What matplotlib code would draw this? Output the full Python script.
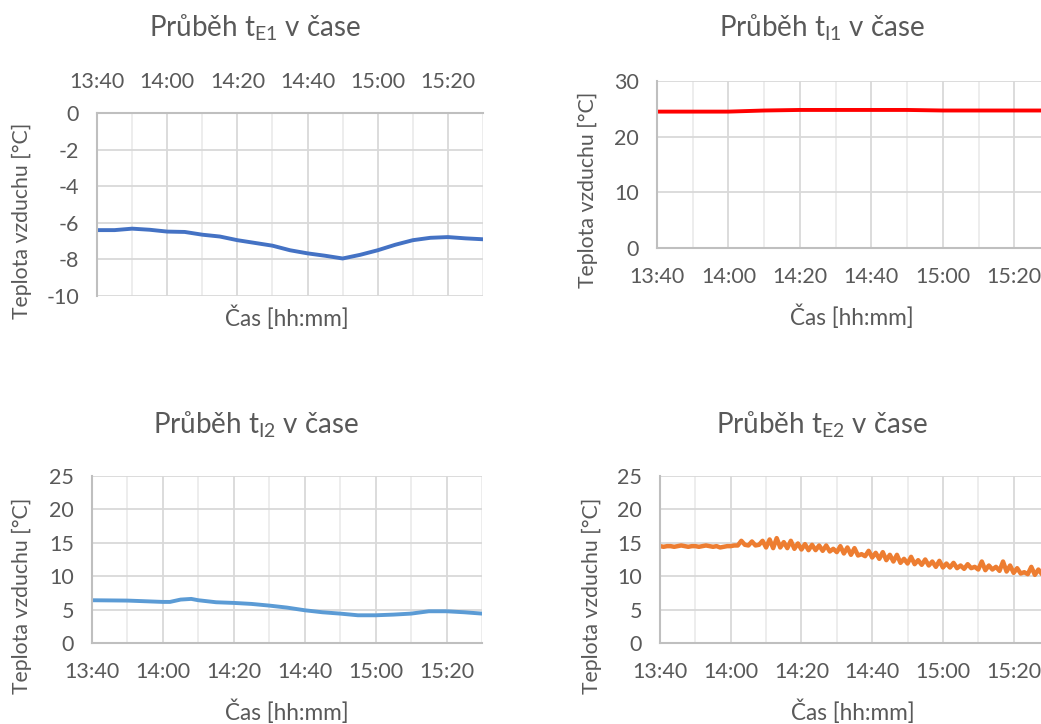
import numpy as np
import matplotlib.pyplot as plt

plt.rcParams['font.family'] = ['Lato', 'DejaVu Sans']
plt.rcParams['axes.unicode_minus'] = False

# time in minutes from 13:40
t_e1_min = [0, 5, 10, 15, 20, 25, 30, 35, 40, 45, 50, 55, 60, 65, 70, 75, 80, 85, 90, 95, 100, 105, 110]
t_e1 = [-6.4, -6.4, -6.32, -6.38, -6.48, -6.5, -6.65, -6.75, -6.95, -7.1, -7.25, -7.5, -7.67,
        -7.8, -7.95, -7.75, -7.5, -7.2, -6.95, -6.82, -6.78, -6.85, -6.9]

t_i1_min = [0, 10, 20, 25, 30, 40, 50, 60, 70, 80, 90, 100, 110]
t_i1 = [24.5, 24.5, 24.5, 24.6, 24.7, 24.8, 24.8, 24.8, 24.8, 24.7, 24.7, 24.7, 24.7]

t_i2_min = [0, 10, 20, 22, 25, 28, 30, 35, 40, 45, 50, 55, 60, 65, 70, 75, 80, 85, 90, 95, 100, 105, 110]
t_i2 = [6.4, 6.35, 6.15, 6.15, 6.5, 6.6, 6.4, 6.1, 6.0, 5.85, 5.6, 5.3, 4.9, 4.6, 4.4, 4.15,
        4.15, 4.25, 4.4, 4.75, 4.75, 4.6, 4.4]

t_e2 = [14.5, 14.4, 14.5, 14.5, 14.4, 14.5, 14.6, 14.5, 14.4, 14.5, 14.5, 14.4, 14.5, 14.6, 14.5,
        14.4, 14.5, 14.3, 14.4, 14.5, 14.5, 14.6, 14.6,
        15.3, 14.7, 14.6, 15.2, 14.6, 14.7, 15.3, 14.3, 15.5, 14.2, 15.7, 14.3, 15.1, 14.2, 15.3,
        14.1, 14.9, 14.0, 14.8, 13.9, 14.7, 13.9, 14.6, 13.8, 14.6, 13.7, 14.1, 13.6, 14.5, 13.4,
        14.3, 13.2, 14.2, 13.1, 13.3, 13.0, 13.8, 12.8, 13.5, 12.6, 13.6, 12.4, 13.2, 12.2, 13.2,
        12.0, 12.6, 11.9, 12.9, 11.8, 12.4, 11.7, 12.5, 11.6, 12.2, 11.4, 12.3, 11.3, 11.9, 11.3,
        12.0, 11.2, 11.6, 11.1, 11.8, 11.2, 11.4, 11.0, 12.2, 10.9, 11.6, 11.0, 11.4, 10.8, 12.2,
        10.7, 11.6, 10.5, 11.2, 10.4, 10.6, 10.3, 11.4, 10.2, 11.0, 10.3, 10.6, 10.2]
t_e2_min = list(range(len(t_e2)))

tick_min = [0, 20, 40, 60, 80, 100]
tick_lab = ['13:40', '14:00', '14:20', '14:40', '15:00', '15:20']

W, H = 1041, 724
fig = plt.figure(figsize=(W / 100, H / 100), dpi=100)

def px_axes(x0, y0, x1, y1):
    return fig.add_axes([x0 / W, 1 - y1 / H, (x1 - x0) / W, (y1 - y0) / H])

def style(ax, ymin, ymax, ystep, top=False):
    ax.set_xlim(0, 110)
    ax.set_ylim(ymin, ymax)
    ax.set_yticks(np.arange(ymin, ymax + 0.1, ystep))
    ax.set_xticks(tick_min)
    ax.set_xticklabels(tick_lab)
    ax.set_xticks(range(10, 111, 20), minor=True)
    ax.grid(True, which='major', color='#d9d9d9', lw=1.3)
    ax.grid(True, which='minor', axis='x', color='#ececec', lw=1.3)
    ax.set_axisbelow(True)
    for s in ['top', 'right', 'bottom', 'left']:
        ax.spines[s].set_visible(False)
    ax.spines['left'].set_visible(True)
    ax.spines['left'].set_color('#bfbfbf')
    ax.spines['left'].set_linewidth(1.5)
    xs = 'top' if top else 'bottom'
    ax.spines[xs].set_visible(True)
    ax.spines[xs].set_color('#bfbfbf')
    ax.spines[xs].set_linewidth(1.5)
    ax.tick_params(which='both', length=0, labelsize=15.5, colors='#595959')
    ax.tick_params(axis='y', pad=13)
    if top:
        ax.xaxis.tick_top()
        ax.tick_params(axis='x', pad=15)
    else:
        ax.tick_params(axis='x', pad=14)

def label(x, y, s, size=14, rot=0):
    fig.text(x / W, 1 - y / H, s, fontsize=size, color='#595959', ha='center', va='center', rotation=rot)

# top left: t_E1
ax1 = px_axes(97, 113, 483, 296)
style(ax1, -10, 0, 2, top=True)
ax1.plot(t_e1_min, t_e1, color='#4472C4', lw=2.8)

# top right: t_I1
ax2 = px_axes(657, 81, 1050, 248)
style(ax2, 0, 30, 10)
ax2.plot(t_i1_min, t_i1, color='#FF0000', lw=2.8)

# bottom left: t_I2
ax3 = px_axes(92, 476, 482, 643)
style(ax3, 0, 25, 5)
ax3.plot(t_i2_min, t_i2, color='#5B9BD5', lw=2.8)

# bottom right: t_E2
ax4 = px_axes(660, 476, 1049, 643)
style(ax4, 0, 25, 5)
ax4.plot(t_e2_min, t_e2, color='#ED7D31', lw=3.2)

label(255, 28, 'Průběh t$_\\mathregular{E1}$ v čase', 20)
label(822, 28, 'Průběh t$_\\mathregular{I1}$ v čase', 20)
label(256, 425, 'Průběh t$_\\mathregular{I2}$ v čase', 20)
label(822, 425, 'Průběh t$_\\mathregular{E2}$ v čase', 20)

for x, y in [(287, 318), (852, 317), (287, 712), (853, 712)]:
    label(x, y, 'Čas [hh:mm]', 16.3)
for x, y in [(22, 221), (588, 190), (22, 596), (592, 596)]:
    label(x, y, 'Teplota vzduchu [°C]', 15.3, rot=90)

fig.savefig('out.png', dpi=100)
